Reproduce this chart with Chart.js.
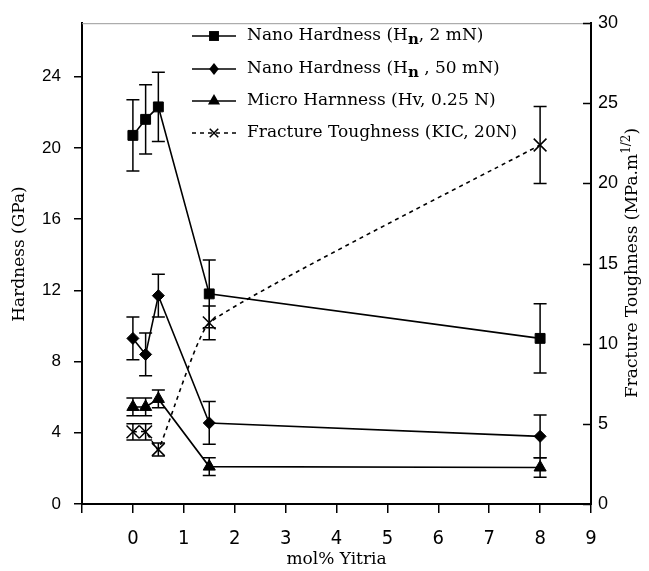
<!DOCTYPE html>
<html>
<head>
<meta charset="utf-8">
<script src="https://cdn.jsdelivr.net/npm/chart.js@4.4.1/dist/chart.umd.min.js"></script>
<style>
  html, body { margin: 0; padding: 0; background: #ffffff; }
  #wrap { width: 649px; height: 571px; }
</style>
</head>
<body>
<div id="wrap"><canvas id="c" width="649" height="571"></canvas></div>
<script>
// ---- data ----
const molYttria = [0, 0.25, 0.5, 1.5, 8];

const nano2mN      = [20.7, 21.6, 22.3, 11.8, 9.3];
const nano2mNErr   = [2.0, 1.95, 1.95, 1.9, 1.95];

const nano50mN     = [9.3, 8.4, 11.7, 4.55, 3.8];
const nano50mNErr  = [1.2, 1.2, 1.2, 1.2, 1.2];

const microHv      = [5.45, 5.45, 5.9, 2.1, 2.05];
const microHvErr   = [0.5, 0.5, 0.5, 0.5, 0.55];

const toughnessKIC    = [4.5, 4.5, 3.4, 11.3, 22.4];
const toughnessKICErr = [0.5, 0.5, 0.4, 1.05, 2.4];

const seriesLabels = [
  ['Nano Hardness (H', 'n', ', 2 mN)'],
  ['Nano Hardness (H', 'n', ' , 50 mN)'],
  ['Micro Harnness (Hv, 0.25 N)', '', ''],
  ['Fracture Toughness (KIC, 20N)', '', '']
];
const xTicks = [-1, 0, 1, 2, 3, 4, 5, 6, 7, 8, 9];
const leftTicks = [0, 4, 8, 12, 16, 20, 24];
const rightTicks = [0, 5, 10, 15, 20, 25, 30];
const xTitle = 'mol% Yitria';
const leftTitle = 'Hardness (GPa)';
const rightTitle = ['Fracture Toughness (MPa.m', '1/2', ')'];

// ---- helpers ----
const pts = (ys) => molYttria.map((x, i) => ({ x: x, y: ys[i] }));
const SERIF = '"DejaVu Serif", "Liberation Serif", serif';

function drawMarker(ctx, style, x, y, r) {
  ctx.save();
  ctx.fillStyle = '#000';
  ctx.strokeStyle = '#000';
  ctx.lineWidth = 1.5;
  ctx.beginPath();
  if (style === 'rect') {
    const s = Math.SQRT1_2 * r;
    ctx.rect(x - s, y - s, 2 * s, 2 * s);
    ctx.fill();
  } else if (style === 'rectRot') {
    ctx.moveTo(x, y - r); ctx.lineTo(x + r * 0.8, y); ctx.lineTo(x, y + r); ctx.lineTo(x - r * 0.8, y);
    ctx.closePath(); ctx.fill();
  } else if (style === 'triangle') {
    ctx.moveTo(x, y - r); ctx.lineTo(x + r * 0.866, y + r * 0.5); ctx.lineTo(x - r * 0.866, y + r * 0.5);
    ctx.closePath(); ctx.fill();
  } else if (style === 'crossRot') {
    const s = Math.SQRT1_2 * r;
    ctx.moveTo(x - s, y - s); ctx.lineTo(x + s, y + s);
    ctx.moveTo(x - s, y + s); ctx.lineTo(x + s, y - s);
    ctx.stroke();
  }
  ctx.restore();
}

const errorBarPlugin = {
  id: 'errorBars',
  afterDatasetsDraw(chart) {
    const ctx = chart.ctx;
    const xs = chart.scales.x;
    ctx.save();
    ctx.strokeStyle = '#000';
    ctx.lineWidth = 1.5;
    ctx.setLineDash([]);
    chart.data.datasets.forEach((ds) => {
      const ys = chart.scales[ds.yAxisID];
      ds.data.forEach((p, j) => {
        const e = ds.errors[j];
        const px = xs.getPixelForValue(p.x);
        const t = ys.getPixelForValue(p.y + e);
        const b = ys.getPixelForValue(p.y - e);
        const w = 6.5;
        ctx.beginPath();
        ctx.moveTo(px, t); ctx.lineTo(px, b);
        ctx.moveTo(px - w, t); ctx.lineTo(px + w, t);
        ctx.moveTo(px - w, b); ctx.lineTo(px + w, b);
        ctx.stroke();
      });
    });
    ctx.restore();
  }
};

const decorPlugin = {
  id: 'decor',
  afterDraw(chart) {
    const ctx = chart.ctx;
    const a = chart.chartArea;
    const y2 = chart.scales.y2;
    ctx.save();
    // top frame line
    ctx.strokeStyle = '#999';
    ctx.lineWidth = 1;
    ctx.beginPath();
    ctx.moveTo(a.left, a.top + 0.5); ctx.lineTo(a.right, a.top + 0.5);
    ctx.stroke();
    // right axis ticks (inward)
    ctx.strokeStyle = '#000';
    ctx.lineWidth = 1.5;
    rightTicks.forEach(v => {
      const py = Math.round(y2.getPixelForValue(v)) + 0.5;
      ctx.beginPath();
      ctx.moveTo(a.right - 8, py); ctx.lineTo(a.right, py);
      ctx.stroke();
    });

    ctx.fillStyle = '#000';
    // left title
    ctx.font = '17px ' + SERIF;
    ctx.textAlign = 'center';
    ctx.textBaseline = 'middle';
    ctx.save();
    ctx.translate(20, 254);
    ctx.rotate(-Math.PI / 2);
    ctx.fillText(leftTitle, 0, 0);
    ctx.restore();
    // right title with superscript
    ctx.save();
    ctx.translate(633, 263);
    ctx.rotate(-Math.PI / 2);
    ctx.font = '17px ' + SERIF;
    const w1 = ctx.measureText(rightTitle[0]).width;
    const w3 = ctx.measureText(rightTitle[2]).width;
    ctx.font = '12px ' + SERIF;
    const w2 = ctx.measureText(rightTitle[1]).width;
    let sx = -(w1 + w2 + w3) / 2;
    ctx.textAlign = 'left';
    ctx.font = '17px ' + SERIF;
    ctx.fillText(rightTitle[0], sx, 0);
    ctx.font = '12px ' + SERIF;
    ctx.fillText(rightTitle[1], sx + w1, -6);
    ctx.font = '17px ' + SERIF;
    ctx.fillText(rightTitle[2], sx + w1 + w2, 0);
    ctx.restore();
    // x title
    ctx.font = '17px ' + SERIF;
    ctx.textAlign = 'center';
    ctx.fillText(xTitle, (a.left + a.right) / 2, 560);

    // legend
    const styles = ['rect', 'rectRot', 'triangle', 'crossRot'];
    const radii = [7, 6, 7, 8];
    const rowsY = [36, 69, 101, 133];
    for (let i = 0; i < 4; i++) {
      const y = rowsY[i];
      ctx.strokeStyle = '#000';
      ctx.lineWidth = 1.5;
      ctx.beginPath();
      if (i === 3) ctx.setLineDash([4, 4]); else ctx.setLineDash([]);
      ctx.moveTo(192, y); ctx.lineTo(236, y);
      ctx.stroke();
      ctx.setLineDash([]);
      drawMarker(ctx, styles[i], 214, y, i === 3 ? 6 : radii[i]);
      const parts = seriesLabels[i];
      ctx.textAlign = 'left';
      ctx.textBaseline = 'middle';
      let tx = 247;
      ctx.font = '17px ' + SERIF;
      ctx.fillText(parts[0], tx, y);
      tx += ctx.measureText(parts[0]).width;
      if (parts[1]) {
        ctx.font = 'bold 15px ' + SERIF;
        ctx.fillText(parts[1], tx, y + 4);
        tx += ctx.measureText(parts[1]).width;
        ctx.font = '17px ' + SERIF;
        ctx.fillText(parts[2], tx, y);
      }
    }
    ctx.restore();
  }
};

const common = {
  borderColor: '#000',
  borderWidth: 1.6,
  pointBackgroundColor: '#000',
  pointBorderColor: '#000',
  pointBorderWidth: 1,
  fill: false
};

const chart = new Chart(document.getElementById('c'), {
  type: 'line',
  data: {
    datasets: [
      Object.assign({}, common, { label: 'Nano Hardness (Hn, 2 mN)', data: pts(nano2mN), errors: nano2mNErr,
        yAxisID: 'y', pointStyle: 'rect', pointRadius: 7, tension: 0 }),
      Object.assign({}, common, { label: 'Nano Hardness (Hn, 50 mN)', data: pts(nano50mN), errors: nano50mNErr,
        yAxisID: 'y', pointStyle: 'rectRot', pointRadius: 6, tension: 0 }),
      Object.assign({}, common, { label: 'Micro Harnness (Hv, 0.25 N)', data: pts(microHv), errors: microHvErr,
        yAxisID: 'y', pointStyle: 'triangle', pointRadius: 7, tension: 0 }),
      Object.assign({}, common, { label: 'Fracture Toughness (KIC, 20N)', data: pts(toughnessKIC), errors: toughnessKICErr,
        yAxisID: 'y2', pointStyle: 'crossRot', pointRadius: 9, pointBorderWidth: 1.5, borderDash: [4, 4],
        tension: 0.12 })
    ]
  },
  options: {
    responsive: false,
    animation: false,
    devicePixelRatio: 1,
    layout: { padding: { top: 17, left: 0, right: 0, bottom: 0 } },
    plugins: { legend: { display: false }, tooltip: { enabled: false } },
    scales: {
      x: {
        type: 'linear',
        min: -1, max: 9,
        afterBuildTicks: (s) => { s.ticks = xTicks.map(v => ({ value: v })); },
        ticks: {
          color: '#000',
          font: { family: '"Liberation Sans Narrow", "DejaVu Sans Condensed", "Liberation Sans", sans-serif', size: 20 },
          padding: 14,
          maxRotation: 0,
          callback: (v) => (v < 0 ? '' : String(v))
        },
        grid: { drawOnChartArea: false, drawTicks: true, tickLength: 9, color: '#000', lineWidth: 1.5 },
        border: { display: true, color: '#000', width: 2 },
        afterFit: (s) => { s.height = 67; }
      },
      y: {
        position: 'left',
        min: 0, max: 27,
        afterBuildTicks: (s) => { s.ticks = leftTicks.map(v => ({ value: v })); },
        ticks: {
          color: '#000',
          font: { family: '"Liberation Sans", Arial, sans-serif', size: 17 },
          padding: 13
        },
        grid: { drawOnChartArea: false, drawTicks: true, tickLength: 8, color: '#000', lineWidth: 1.5 },
        border: { display: true, color: '#000', width: 2 },
        afterFit: (s) => { s.width = 82; }
      },
      y2: {
        position: 'right',
        min: 0, max: 30,
        afterBuildTicks: (s) => { s.ticks = rightTicks.map(v => ({ value: v })); },
        ticks: {
          color: '#000',
          font: { family: '"Liberation Sans", Arial, sans-serif', size: 18 },
          padding: 7
        },
        grid: { drawOnChartArea: false, drawTicks: false },
        border: { display: true, color: '#000', width: 2 },
        afterFit: (s) => { s.width = 58; }
      }
    }
  },
  plugins: [errorBarPlugin, decorPlugin]
});
</script>
</body>
</html>
